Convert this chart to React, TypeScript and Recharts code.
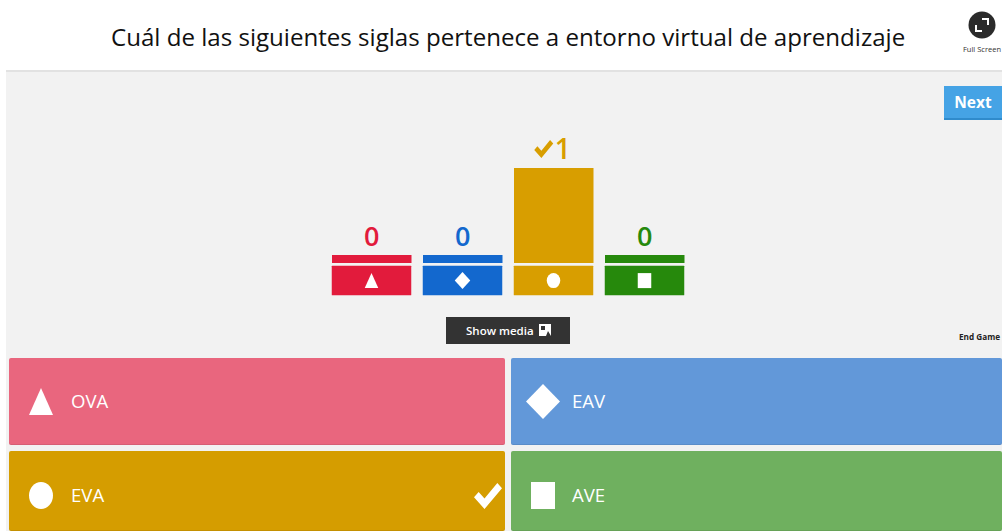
import React from "react";
import { BarChart, Bar, XAxis, YAxis, Cell, LabelList } from "recharts";

const shapes = ["triangle", "diamond", "circle", "square"];
const counts = [0, 0, 1, 0];
const correct = [false, false, true, false];
const barColors = ["#e21b3c", "#1368ce", "#d89e00", "#26890c"];
const answers = ["OVA", "EAV", "EVA", "AVE"];
const cardColors = ["#e9667e", "#6298d9", "#d59d00", "#6fb05f"];
const title = "Cuál de las siguientes siglas pertenece a entorno virtual de aprendizaje";
const chartData = shapes.map((shape, i) => ({ shape, count: counts[i] }));

const FONT = "'Open Sans', 'Noto Sans', sans-serif";

function Shape({ kind, cx, cy, w, h, fill = "#fff" }: { kind: string; cx: number; cy: number; w: number; h: number; fill?: string }) {
  const sx = w / 2;
  const sy = h / 2;
  if (kind === "triangle") return <polygon points={`${cx},${cy - sy} ${cx + sx},${cy + sy} ${cx - sx},${cy + sy}`} fill={fill} />;
  if (kind === "diamond") return <polygon points={`${cx},${cy - sy} ${cx + sx},${cy} ${cx},${cy + sy} ${cx - sx},${cy}`} fill={fill} />;
  if (kind === "circle") return <ellipse cx={cx} cy={cy} rx={sx} ry={sy} fill={fill} />;
  return <rect x={cx - sx} y={cy - sy} width={w} height={h} fill={fill} />;
}

function Check({ x, y, w, h, fill }: { x: number; y: number; w: number; h: number; fill: string }) {
  return (
    <svg x={x} y={y} width={w} height={h} viewBox="0 0 24 20" preserveAspectRatio="none" style={{ overflow: "visible" }}>
      <polygon points="0,11 4,7 9,12 20,0 24,4 9,20" fill={fill} />
    </svg>
  );
}

function Tile(props: any) {
  const { x, y, index } = props;
  const color = barColors[index];
  const kind = shapes[index];
  const w = kind === "diamond" ? 15.5 : 13.5;
  const h = kind === "diamond" ? 17 : 15;
  return (
    <g>
      <rect x={x - 39.75} y={y + 2.7} width={79.5} height={29.5} fill={color} rx={0.5} />
      <Shape kind={kind} cx={x} cy={y + 17.6} w={w} h={h} />
    </g>
  );
}

function CountLabel(props: any) {
  const { x, y, width, index, value } = props;
  const cx = x + width / 2;
  const color = barColors[index];
  if (correct[index]) {
    return (
      <g>
        <Check x={cx - 19.5} y={y - 28} w={19} h={18} fill={color} />
        <text x={cx + 9} y={y - 9.5} textAnchor="middle" fontSize={28} fontWeight={600} fontFamily={FONT} fill={color}>{value}</text>
      </g>
    );
  }
  return <text x={cx} y={y - 9} textAnchor="middle" fontSize={27} fontWeight={600} fontFamily={FONT} fill={color}>{value}</text>;
}

function Card({ i, left, top, width, height }: { i: number; left: number; top: number; width: number; height: number }) {
  const kind = shapes[i];
  const w = kind === "diamond" ? 34 : 24;
  const h = kind === "diamond" ? 35 : 27;
  return (
    <div style={{ position: "absolute", left, top, width, height, background: cardColors[i], borderRadius: 2, boxShadow: "inset 0 -1px 0 rgba(0,0,0,0.08)" }}>
      <svg width={width} height={height} style={{ position: "absolute", left: 0, top: 0 }}>
        <Shape kind={kind} cx={32} cy={i < 2 ? 43.5 : 44.5} w={w} h={h} />
        {correct[i] && <Check x={465} y={32} w={28} h={26} fill="#fff" />}
      </svg>
      <div style={{ position: "absolute", left: i === 1 || i === 3 ? 61 : 62, top: i < 2 ? 32 : 33, fontFamily: FONT, fontSize: 18.6, lineHeight: "22px", color: "#fff" }}>
        {answers[i]}
      </div>
    </div>
  );
}

export default function App() {
  return (
    <div style={{ position: "absolute", left: 0, top: 0, width: 1002, height: 531, overflow: "hidden", background: "#fff", fontFamily: FONT }}>
      <div style={{ position: "absolute", left: 6, top: 70, width: 996, height: 461, background: "#f2f2f2", borderTop: "2px solid #e2e2e2", boxSizing: "border-box" }} />
      <div style={{ position: "absolute", left: 111, top: 18, width: 800, fontSize: 24.1, lineHeight: "38px", color: "#111", whiteSpace: "nowrap" }}>{title}</div>

      <svg width={30} height={30} style={{ position: "absolute", left: 967, top: 10 }}>
        <circle cx={15} cy={15} r={13.5} fill="#2b2b2b" />
        <path d="M15 9 H21 V15 M9 15 V21 H15" stroke="#fff" strokeWidth={2} fill="none" />
      </svg>
      <div style={{ position: "absolute", left: 963, top: 43, fontSize: 7.5, lineHeight: "12px", color: "#333", whiteSpace: "nowrap" }}>Full Screen</div>

      <div style={{ position: "absolute", left: 944, top: 86, width: 58, height: 34, boxSizing: "border-box", background: "#45a3e5", borderBottom: "2px solid #2f8bcc", color: "#fff", fontSize: 15.5, fontWeight: 700, textAlign: "center", lineHeight: "33px" }}>Next</div>

      <div style={{ position: "absolute", left: 325.75, top: 100 }}>
        <BarChart width={364} height={200} data={chartData} margin={{ top: 68, right: 0, bottom: 0, left: 0 }} barCategoryGap={0} barSize={79.5}>
          <XAxis dataKey="shape" axisLine={false} tickLine={false} tick={<Tile />} height={37} interval={0} tickMargin={0} tickSize={0} />
          <YAxis hide domain={[0, 1]} />
          <Bar dataKey="count" isAnimationActive={false} minPointSize={8} stroke="none">
            {chartData.map((d, i) => <Cell key={d.shape} fill={barColors[i]} />)}
            <LabelList dataKey="count" content={<CountLabel />} />
          </Bar>
        </BarChart>
      </div>

      <div style={{ position: "absolute", left: 446, top: 317, width: 124, height: 27, background: "#333", color: "#fff", fontSize: 11.5, fontWeight: 600, lineHeight: "27px", boxSizing: "border-box", paddingLeft: 20, whiteSpace: "nowrap" }}>
        Show media
        <svg width={12} height={12} style={{ position: "absolute", left: 93, top: 7 }}>
          <rect width={12} height={12} fill="#fff" />
          <path d="M2 2 H6 V6 H2 Z M7 12 L9 7 L12 12 Z" fill="#333" />
        </svg>
      </div>
      <div style={{ position: "absolute", left: 959, top: 331, fontSize: 8.2, fontWeight: 700, lineHeight: "12px", color: "#222", whiteSpace: "nowrap" }}>End Game</div>

      <Card i={0} left={9} top={358} width={496} height={87} />
      <Card i={1} left={511} top={358} width={491} height={87} />
      <Card i={2} left={9} top={451} width={496} height={80} />
      <Card i={3} left={511} top={451} width={491} height={80} />
    </div>
  );
}
